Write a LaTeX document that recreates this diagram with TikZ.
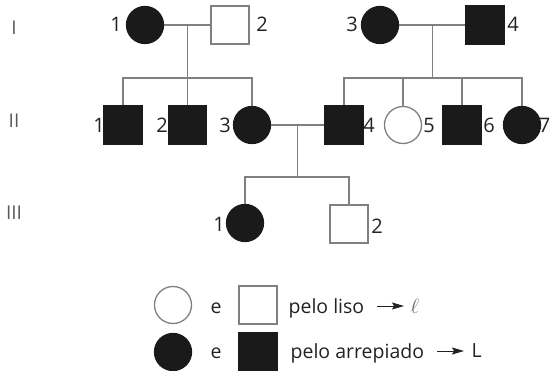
\documentclass[tikz,border=0pt]{standalone}
\usepackage{fontspec}
\setmainfont{Open Sans}
\usetikzlibrary{arrows.meta,calc}
\definecolor{linegray}{HTML}{808080}
\definecolor{ink}{HTML}{1A1A1A}
\definecolor{txt}{HTML}{222222}
\begin{document}
\begin{tikzpicture}[x=1pt,y=-1pt,line width=1.3pt,
  lin/.style={draw=linegray},
  fem/.style={circle,draw=linegray,minimum size=37pt,inner sep=0pt},
  mal/.style={rectangle,draw=linegray,minimum size=38pt,inner sep=0pt},
  aff/.style={fill=ink,draw=ink},
  num/.style={font=\fontsize{20}{20}\selectfont,inner sep=0pt,text=txt},
  gen/.style={font=\fontsize{19}{19}\selectfont,inner sep=0pt,text=txt!75},
  leg/.style={font=\fontsize{19.5}{19.5}\selectfont,inner sep=0pt,text=txt,anchor=base west},
  arr/.style={draw=txt,line width=1pt,-{Stealth[length=12pt,width=7pt,inset=2pt]}}]
\useasboundingbox (0,0) rectangle (551,371);

% generation labels
\node[gen] (gI) at (14,28) {I};
\node[gen] (gII) at (14,121) {II};
\node[gen] (gIII) at (14,213) {III};

% generation I
\node[fem,aff] (I1) at (145,25) {};
\node[mal] (I2) at (230,25) {};
\node[fem,aff] (I3) at (380,25) {};
\node[mal,aff] (I4) at (485,25) {};
\node[num] (nI1) at (116,24) {1};
\node[num] (nI2) at (262,24) {2};
\node[num] (nI3) at (352,24) {3};
\node[num] (nI4) at (513,24) {4};

% generation II
\node[mal,aff] (II1) at (123,125) {};
\node[mal,aff] (II2) at (187.5,125) {};
\node[fem,aff] (II3) at (252,125) {};
\node[mal,aff] (II4) at (344,125) {};
\node[fem] (II5) at (403,125) {};
\node[mal,aff] (II6) at (462,125) {};
\node[fem,aff] (II7) at (522,125) {};
\node[num] (nII1) at (99,125) {1};
\node[num] (nII2) at (162,125) {2};
\node[num] (nII3) at (225,125) {3};
\node[num] (nII4) at (369,125) {4};
\node[num] (nII5) at (429,125) {5};
\node[num] (nII6) at (489,125) {6};
\node[num] (nII7) at (544.5,125) {7};

% generation III
\node[fem,aff] (III1) at (245,223) {};
\node[mal] (III2) at (349,224) {};
\node[num] (nIII1) at (219,224) {1};
\node[num] (nIII2) at (377,226) {2};

% family 1
\coordinate (m1) at ($(I1.east)!0.5!(I2.west)$);
\coordinate (s1) at ([yshift=-53pt]m1);
\draw[lin] (I1) -- (I2);
\draw[lin] (m1) -- (s1);
\draw[lin] (II1.north) |- (s1) -| (II3.north);
\draw[lin] (II2.north) -- (II2.north |- s1);

% family 2
\coordinate (m2) at ($(I3.east)!0.5!(I4.west)$);
\coordinate (s2) at ([yshift=-53pt]m2);
\draw[lin] (I3) -- (I4);
\draw[lin] (m2) -- (s2);
\draw[lin] (II4.north) |- (s2) -| (II7.north);
\draw[lin] (II5.north) -- (II5.north |- s2);
\draw[lin] (II6.north) -- (II6.north |- s2);

% family 3
\coordinate (m3) at ($(II3.east)!0.5!(II4.west)$);
\coordinate (s3) at ([yshift=-52pt]m3);
\draw[lin] (II3) -- (II4);
\draw[lin] (m3) -- (s3);
\draw[lin] (III1.north) |- (s3) -| (III2.north);

% legend
\node[fem] (L1c) at (173,305) {};
\node[leg] (L1e) at (210,313) {e};
\node[mal] (L1s) at (258,305) {};
\node[leg] (L1t) at (288,313) {pelo liso};
\coordinate (a1s) at (377,306);
\coordinate (a1e) at (404,306);
\node[leg,text=txt!70,font=\fontsize{22}{22}\selectfont] (L1a) at (410,313) {$\ell$};
\draw[arr] (a1s) -- (a1e);

\node[fem,aff] (L2c) at (173,352) {};
\node[leg] (L2e) at (210,358) {e};
\node[mal,aff] (L2s) at (258,352) {};
\node[leg] (L2t) at (290,358) {pelo arrepiado};
\coordinate (a2s) at (437,351);
\coordinate (a2e) at (464,351);
\draw[arr] (a2s) -- (a2e);
\node[leg] (L2a) at (471,357) {L};
\end{tikzpicture}
\end{document}
